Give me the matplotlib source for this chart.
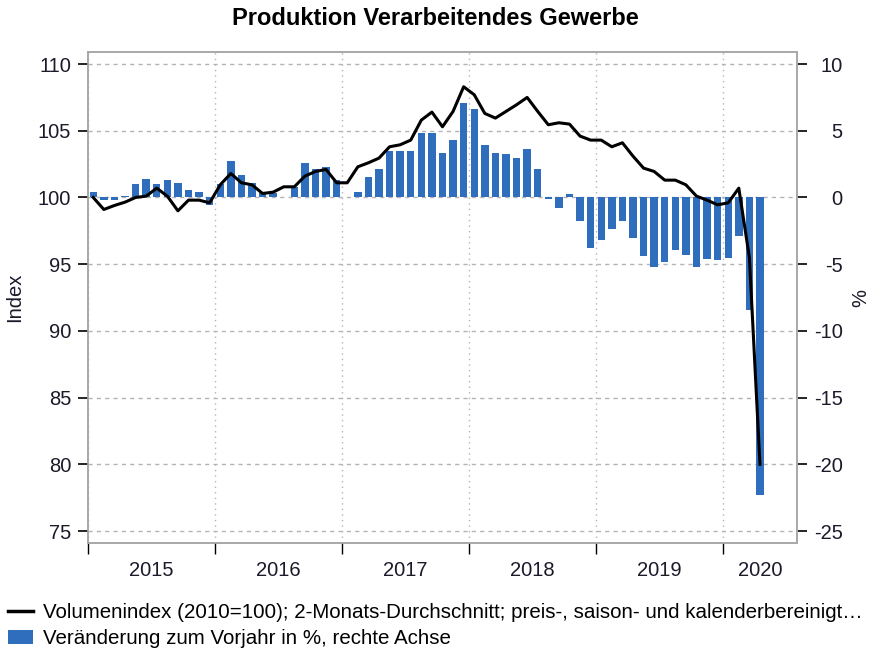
import matplotlib.pyplot as plt
import numpy as np
from matplotlib.lines import Line2D
from matplotlib.patches import Patch

# monthly, Jan 2015 .. Apr 2020
years = ['2015', '2016', '2017', '2018', '2019', '2020']
index_vals = [100.0, 99.1, 99.4, 99.65, 100.0, 100.1, 100.7, 100.1, 99.0, 99.8, 99.8, 99.6,
              100.95, 101.8, 101.1, 100.95, 100.3, 100.4, 100.8, 100.8, 101.6, 101.95, 102.1, 101.1,
              101.1, 102.3, 102.6, 102.95, 103.8, 103.95, 104.3, 105.8, 106.4, 105.3, 106.45, 108.3,
              107.7, 106.3, 105.95, 106.45, 106.95, 107.5, 106.45, 105.45, 105.6, 105.5, 104.6, 104.3,
              104.3, 103.8, 104.1, 103.1, 102.2, 101.95, 101.3, 101.3, 100.95, 100.1, 99.8, 99.45,
              99.6, 100.7, 95.5, 80.0]
yoy_vals = [0.4, -0.2, -0.2, 0.1, 1.0, 1.4, 1.0, 1.3, 1.1, 0.55, 0.4, -0.55,
            1.0, 2.7, 1.7, 1.1, 0.3, 0.3, 0.05, 0.8, 2.6, 2.15, 2.3, 1.3,
            0.0, 0.4, 1.5, 2.1, 3.5, 3.45, 3.45, 4.8, 4.8, 3.3, 4.3, 7.1,
            6.6, 3.9, 3.3, 3.25, 2.95, 3.6, 2.1, -0.15, -0.8, 0.25, -1.8, -3.75,
            -3.2, -2.4, -1.75, -3.05, -4.4, -5.2, -4.8, -3.9, -4.3, -5.2, -4.6, -4.7,
            -4.55, -2.9, -8.4, -22.3]

line_label = 'Volumenindex (2010=100); 2-Monats-Durchschnitt; preis-, saison- und kalenderbereinigt…'
bar_label = 'Veränderung zum Vorjahr in %, rechte Achse'

plt.rcParams['font.family'] = ['Liberation Sans', 'DejaVu Sans']
plt.rcParams['axes.unicode_minus'] = False

x = np.arange(len(index_vals))
blue = '#2f6ebd'
txt = '#1a1a2a'
fs = 14.5

fig = plt.figure(figsize=(8.7, 6.59), dpi=100)
ax = fig.add_axes([0.1011, 0.176, 0.815, 0.745])
ax2 = ax.twinx()

ax2.bar(x, yoy_vals, width=0.7, color=blue, zorder=2)
ax.plot(x, index_vals, color='black', lw=2.2, zorder=3)

ax.set_zorder(ax2.get_zorder() + 1)
ax.patch.set_visible(False)

ax.set_xlim(-0.5, 66.5)
ax.set_ylim(74.1, 110.9)
ax2.set_ylim(-25.9, 10.9)
ax.set_yticks(range(75, 111, 5))
ax2.set_yticks(range(-25, 11, 5))

# grid on the lower axes so bars cover it
for yv in range(-25, 11, 5):
    ax2.axhline(yv, color='#b4b4b4', lw=1, ls=(0, (3, 3)), zorder=0)
for i in range(6):
    ax2.axvline(-0.5 + 12 * i, color='#b4b4b4', lw=1, ls=(0, (1, 3)), zorder=0)

ax.set_xticks([-0.5 + 12 * i for i in range(6)])
ax.set_xticklabels([])
ax.set_xticks([5.5, 17.5, 29.5, 41.5, 53.5, 63], minor=True)
ax.set_xticklabels(years, minor=True)
ax.tick_params(axis='x', which='major', length=8, width=1, direction='out', color='black')
ax.tick_params(axis='x', which='minor', length=0, pad=13, labelsize=fs, labelcolor=txt)
ax.tick_params(axis='y', length=7, width=1.2, pad=5, labelsize=fs, labelcolor=txt, color='black')
ax2.tick_params(axis='y', length=7, width=1.2, pad=26, labelsize=fs, labelcolor=txt, color='black')
for lab in ax2.get_yticklabels():
    lab.set_horizontalalignment('right')

for a in (ax, ax2):
    for s in a.spines.values():
        s.set_color('#a8a8a8')
        s.set_linewidth(1.2)

ax.set_ylabel('Index', fontsize=fs, color=txt, labelpad=10)
ax2.set_ylabel('%', fontsize=fs, color=txt, labelpad=6)

fig.suptitle('Produktion Verarbeitendes Gewerbe', fontsize=17, fontweight='bold', y=0.99)

handles = [Line2D([0], [0], color='black', lw=2.5),
           Patch(facecolor=blue, edgecolor='none')]
fig.legend(handles, [line_label, bar_label], loc='upper left', bbox_to_anchor=(0.0, 0.097),
           frameon=False, handlelength=1.2, handleheight=0.7, handletextpad=0.5,
           labelspacing=0.35, borderaxespad=0, prop={'family': ['Liberation Sans'], 'size': 14.8})

fig.savefig('out.png', dpi=100)
